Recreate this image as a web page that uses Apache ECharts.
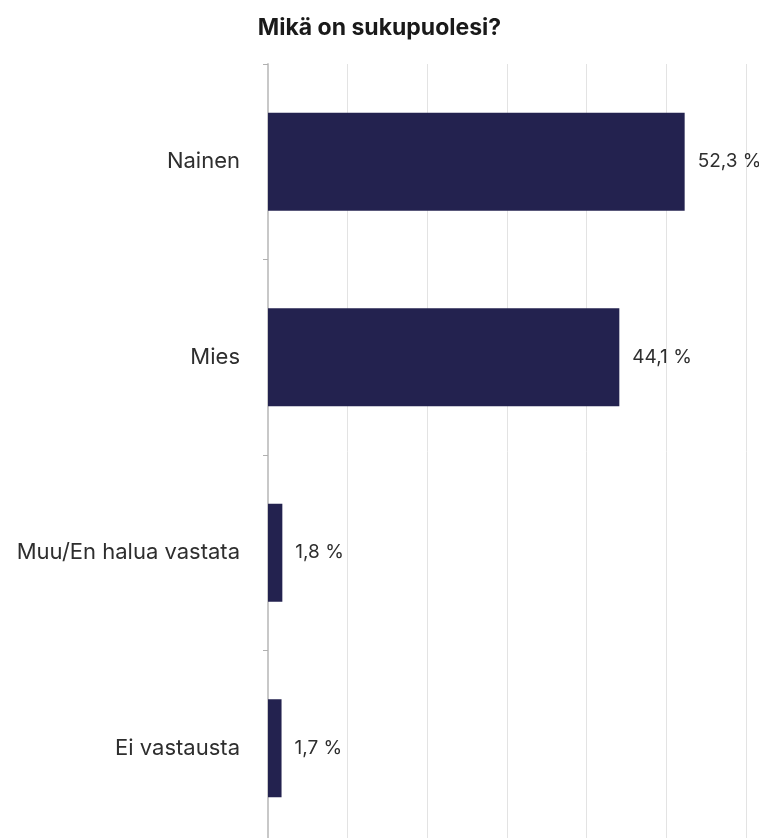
<!DOCTYPE html>
<html><head><meta charset="utf-8">
<script src="https://cdn.jsdelivr.net/npm/echarts@6/dist/echarts.min.js"></script>
<style>html,body{margin:0;padding:0;background:#fff}#c{width:759px;height:838px}</style>
</head><body><div id="c"></div>
<script>
const titleText = 'Mikä on sukupuolesi?';
const categories = ['Nainen', 'Mies', 'Muu/En halua vastata', 'Ei vastausta'];
const values = [52.3, 44.1, 1.8, 1.7];
const labels = ['52,3 %', '44,1 %', '1,8 %', '1,7 %'];

const chart = echarts.init(document.getElementById('c'));
chart.setOption({
  backgroundColor: '#fff',
  animation: false,
  title: {
    text: titleText, left: 'center', top: 12,
    textStyle: { fontFamily: 'Inter', fontWeight: 'bold', fontSize: 23, color: '#1a1a1a' }
  },
  grid: { left: 268, top: 64, width: 478, height: 782, outerBoundsMode: 'none' },
  xAxis: {
    type: 'value', min: 0, max: 60, interval: 10,
    axisLabel: { show: false }, axisLine: { show: false }, axisTick: { show: false },
    splitLine: { show: true, lineStyle: { color: '#e3e3e3', width: 1 } }
  },
  yAxis: {
    type: 'category', data: categories, inverse: true,
    axisLine: { show: true, lineStyle: { color: '#c8c8c8', width: 2 } },
    axisTick: { show: true, length: 5, lineStyle: { color: '#b0b0b0' } },
    axisLabel: { margin: 28, fontFamily: 'Inter', fontSize: 22, color: '#2e2e2e' }
  },
  series: [{
    type: 'bar', data: values, barWidth: 98,
    itemStyle: { color: '#23224f' },
    label: {
      show: true, position: 'right', distance: 13,
      fontFamily: 'Inter', fontSize: 19, color: '#2e2e2e',
      formatter: p => labels[p.dataIndex]
    }
  }]
});
</script></body></html>
